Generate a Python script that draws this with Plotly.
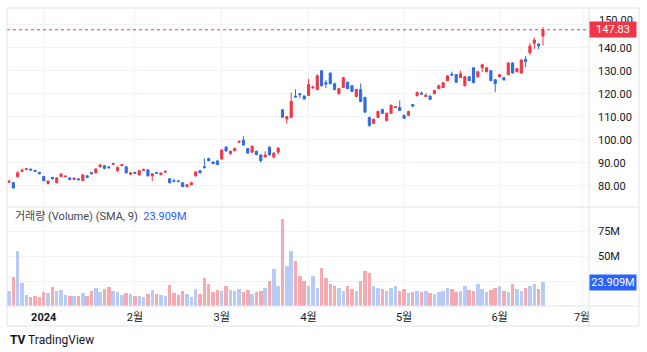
import plotly.graph_objects as go
import pandas as pd

# ---------------- data ----------------
holidays = ["2023-12-25", "2024-01-01", "2024-01-15", "2024-02-19",
            "2024-03-29", "2024-05-27", "2024-06-19"]
calendar = [d.strftime("%Y-%m-%d") for d in pd.bdate_range("2023-12-19", "2024-07-05")
            if d.strftime("%Y-%m-%d") not in holidays]

opens = [81.5, 81.4, 83.9, 86.2, 87.0, 87.2, 86.7, 85.8, 84.0, 81.0,
         83.6, 81.3, 84.0, 83.9, 83.4, 82.7, 83.0, 82.2, 84.3, 85.7,
         85.6, 88.2, 88.7, 88.2, 89.3, 86.6, 88.8, 88.2, 85.0, 85.8,
         84.7, 86.7, 86.9, 84.3, 85.8, 84.8, 85.9, 83.0, 82.2, 82.1,
         81.3, 79.6, 80.4, 84.3, 86.5, 88.3, 91.8, 90.3, 90.8, 91.6,
         96.8, 94.0, 95.2, 98.9, 99.8, 96.2, 94.6, 95.0, 93.4, 92.5,
         96.8, 92.5, 94.6, 113.0, 109.0, 109.7, 119.0, 120.0, 119.0, 119.2,
         122.5, 121.8, 130.0, 124.8, 129.0, 124.4, 120.0, 122.7, 125.0, 123.5,
         118.8, 121.8, 118.4, 109.7, 107.1, 109.7, 113.2, 108.4, 111.5, 114.0,
         114.0, 110.6, 110.6, 115.3, 119.2, 120.3, 118.8, 119.0, 120.0, 122.2,
         122.7, 125.7, 128.5, 128.3, 127.0, 123.5, 127.4, 131.3, 127.4, 131.3,
         129.6, 130.0, 126.1, 127.4, 127.0, 128.3, 133.4, 129.6, 129.0, 135.0,
         137.8, 142.0, 141.6, 145.1]
highs = [82.3, 81.6, 86.3, 87.5, 87.8, 87.5, 86.9, 86.0, 84.3, 82.3,
         83.9, 83.7, 85.6, 84.6, 83.6, 83.6, 83.1, 85.0, 84.5, 86.0,
         87.6, 89.4, 88.9, 88.4, 90.0, 88.3, 89.5, 88.4, 85.9, 86.0,
         86.8, 87.5, 87.1, 85.4, 86.0, 85.8, 86.8, 83.2, 83.0, 82.5,
         81.5, 80.7, 81.5, 86.3, 86.8, 92.0, 92.2, 90.5, 91.0, 95.8,
         97.2, 95.3, 96.5, 99.6, 101.5, 96.4, 97.4, 95.2, 93.6, 95.0,
         97.0, 94.4, 96.6, 113.3, 110.3, 120.5, 122.0, 120.3, 119.2, 126.5,
         123.5, 128.5, 130.3, 126.0, 129.3, 124.8, 122.5, 127.3, 125.3, 123.8,
         122.1, 124.5, 118.7, 110.0, 109.2, 112.6, 113.5, 111.8, 115.3, 114.6,
         117.0, 110.9, 112.6, 115.6, 121.0, 121.0, 120.2, 119.2, 121.7, 124.0,
         125.0, 128.0, 129.6, 128.6, 130.0, 127.7, 127.6, 131.5, 129.9, 133.0,
         131.6, 130.3, 126.4, 128.6, 127.3, 133.7, 133.7, 131.3, 135.0, 136.5,
         142.0, 144.5, 142.0, 149.0]
lows = [81.2, 78.7, 83.5, 86.0, 86.8, 86.5, 85.9, 84.9, 81.9, 80.6,
        82.7, 81.0, 83.7, 83.7, 82.4, 82.5, 82.3, 82.0, 83.3, 85.0,
        85.4, 88.0, 87.2, 87.2, 89.0, 86.0, 88.4, 85.4, 84.8, 85.1,
        84.5, 86.5, 84.0, 82.0, 85.1, 84.6, 85.7, 81.0, 81.7, 81.6,
        79.4, 79.4, 80.2, 84.0, 85.4, 87.6, 90.6, 89.4, 88.9, 91.4,
        94.9, 93.5, 95.0, 98.5, 97.5, 94.0, 94.4, 93.3, 90.0, 92.3,
        93.2, 91.8, 93.5, 109.5, 107.0, 109.5, 118.3, 118.0, 117.4, 119.0,
        122.3, 121.5, 123.2, 122.5, 124.0, 121.5, 119.7, 122.5, 122.0, 120.7,
        118.5, 116.3, 111.7, 105.5, 106.8, 109.4, 111.2, 108.0, 111.3, 113.7,
        112.5, 109.0, 110.3, 114.4, 118.8, 119.6, 118.6, 117.3, 119.8, 122.0,
        122.5, 125.5, 127.9, 124.8, 126.8, 123.2, 125.5, 124.6, 127.0, 129.5,
        129.3, 125.5, 120.7, 127.0, 125.8, 128.0, 128.8, 129.3, 128.8, 131.5,
        137.0, 139.5, 139.3, 141.0]
closes = [82.0, 79.0, 85.6, 86.7, 87.4, 86.8, 86.2, 85.2, 82.2, 82.0,
          83.0, 83.4, 85.0, 84.1, 82.7, 83.3, 82.6, 84.7, 83.6, 85.2,
          87.3, 89.0, 87.5, 87.9, 89.6, 88.0, 89.2, 85.6, 85.6, 85.4,
          86.5, 87.0, 84.3, 85.2, 85.4, 85.5, 86.1, 81.3, 81.9, 81.8,
          79.6, 80.4, 81.3, 86.0, 85.6, 87.8, 90.9, 89.6, 89.2, 95.5,
          95.1, 95.0, 96.2, 99.3, 97.7, 94.2, 97.2, 93.5, 90.9, 93.4,
          93.4, 94.2, 96.4, 109.8, 110.0, 116.6, 118.6, 119.6, 117.7, 124.0,
          122.9, 127.8, 123.5, 124.2, 124.4, 121.8, 122.2, 127.0, 122.2, 121.0,
          121.8, 116.6, 112.0, 106.3, 108.9, 112.3, 111.5, 111.5, 115.0, 114.3,
          112.7, 109.3, 112.3, 114.6, 120.5, 119.8, 119.3, 117.5, 121.4, 123.5,
          124.8, 127.8, 128.1, 125.0, 128.7, 127.4, 125.7, 124.8, 129.6, 132.6,
          131.3, 125.7, 124.4, 128.3, 126.0, 133.4, 129.0, 131.0, 134.7, 134.0,
          140.8, 143.4, 140.8, 147.83]
volumes_m = [14.7, 29.0, 55.0, 23.0, 11.3, 9.3, 9.6, 8.6, 13.7, 13.0,
             18.8, 15.4, 16.0, 11.3, 10.3, 10.0, 10.3, 13.4, 10.3, 14.7,
             18.2, 14.4, 17.2, 19.5, 15.4, 14.4, 11.3, 13.0, 11.6, 10.0,
             10.0, 8.6, 12.0, 16.0, 12.0, 11.3, 9.6, 21.6, 12.7, 11.0,
             15.4, 12.0, 9.3, 17.2, 12.0, 28.0, 22.0, 14.0, 16.0, 15.0,
             20.0, 16.0, 15.0, 17.0, 14.0, 16.0, 12.0, 14.0, 15.0, 18.0,
             25.0, 37.0, 20.0, 88.0, 40.0, 55.0, 45.0, 30.0, 25.0, 20.0,
             30.0, 18.0, 38.0, 28.0, 22.0, 20.0, 18.0, 15.0, 20.0, 17.0,
             15.0, 25.0, 35.0, 33.0, 20.0, 18.0, 17.0, 15.0, 18.0, 20.0,
             15.0, 17.0, 13.0, 14.0, 15.0, 14.0, 15.0, 13.0, 12.0, 14.0,
             15.0, 18.0, 17.0, 14.0, 15.0, 20.0, 16.0, 15.0, 22.0, 17.0,
             14.0, 16.0, 18.0, 20.0, 15.0, 14.0, 22.0, 17.0, 15.0, 18.0,
             20.0, 22.0, 17.0, 23.909]
last_price = 147.83
last_volume_label = "23.909M"
price_tickvals = [80, 90, 100, 110, 120, 130, 140, 150]
month_ticks = ["2024-01-02", "2024-02-01", "2024-03-01", "2024-04-01",
               "2024-05-01", "2024-06-03", "2024-07-01"]
month_labels = ["<b>2024</b>", "2월", "3월", "4월", "5월", "6월", "7월"]
vol_tickvals = [25, 50, 75]
vol_ticktext = ["", "50M", "75M"]   # 25M label is hidden behind the last-value tag

# ---------------- figure ----------------
n = len(closes)
dates = calendar[:n]
xs = list(range(n))
tick_idx = [calendar.index(d) for d in month_ticks]

UP, DOWN = "#f23645", "#2e6be6"
VOL_UP, VOL_DOWN = "#b7cbf6", "#f6a9ae"   # volume colours are inverted vs candles
vol_colors = [VOL_UP if c >= o else VOL_DOWN for o, c in zip(opens, closes)]

W, H = 647, 352
PL, PR, PT, PB = 7, 589, 8, 306
SEP = 207
pane_split = (PB - SEP) / (PB - PT)

def px_x(px):
    return (px - PL) / (PR - PL)

def px_y(py):
    return (PB - py) / (PB - PT)

fig = go.Figure()
fig.add_trace(go.Candlestick(
    x=xs, open=opens, high=highs, low=lows, close=closes,
    increasing=dict(line=dict(color=UP, width=1), fillcolor=UP),
    decreasing=dict(line=dict(color=DOWN, width=1), fillcolor=DOWN),
    whiskerwidth=0, xaxis="x", yaxis="y", hoverinfo="skip", showlegend=False,
))
fig.add_trace(go.Bar(
    x=xs, y=volumes_m, marker=dict(color=vol_colors, line=dict(width=0)),
    width=0.8, xaxis="x", yaxis="y2", hoverinfo="skip", showlegend=False,
))

FONT = "Roboto, 'Noto Sans CJK KR', sans-serif"
GRID = "#f0f3fa"
LINE = "#e0e3eb"
TXT = "#131722"

price_ticktext = [f"{v:.2f}" if v != 150 else "" for v in price_tickvals]

fig.update_layout(
    width=W, height=H,
    margin=dict(l=PL, r=W - PR, t=PT, b=H - PB, pad=0),
    paper_bgcolor="white", plot_bgcolor="white",
    font=dict(family=FONT, size=11, color=TXT),
    bargap=0,
    xaxis=dict(
        domain=[0, 1], anchor="y2", range=[-0.46, 133.6],
        tickvals=tick_idx, ticktext=month_labels, ticks="", ticklabelstandoff=3,
        showgrid=True, gridcolor=GRID, gridwidth=1, zeroline=False, showline=False,
        rangeslider=dict(visible=False), tickfont=dict(size=11, color=TXT, family=FONT),
    ),
    yaxis=dict(
        domain=[pane_split, 1], anchor="x", side="right", range=[70.74, 157.3],
        tickvals=price_tickvals, ticktext=price_ticktext, ticks="", ticklabelstandoff=8,
        showgrid=True, gridcolor=GRID, zeroline=False, showline=False,
        tickfont=dict(size=11, color=TXT, family=FONT),
    ),
    yaxis2=dict(
        domain=[0, pane_split], anchor="x", side="right", range=[0, 99.7],
        tickvals=vol_tickvals, ticktext=vol_ticktext, ticks="", ticklabelstandoff=8,
        showgrid=True, gridcolor=GRID, zeroline=False, showline=False,
        tickfont=dict(size=11, color=TXT, family=FONT),
    ),
)

shapes = [
    # cover the clipped part of the "7월" label
    dict(type="rect", xref="paper", yref="paper", x0=px_x(PR) + 0.0005, x1=px_x(639),
         y0=px_y(325), y1=px_y(PB), fillcolor="white", line=dict(width=0), layer="above"),
    # last price dotted line
    dict(type="line", xref="paper", yref="y", x0=0, x1=1, y0=last_price, y1=last_price,
         line=dict(color=UP, width=1, dash="dot"), layer="above"),
    # frame
    dict(type="rect", xref="paper", yref="paper", x0=px_x(7), x1=px_x(639),
         y0=px_y(326), y1=px_y(8), line=dict(color=LINE, width=1), layer="above"),
    dict(type="line", xref="paper", yref="paper", x0=1, x1=1, y0=px_y(326), y1=px_y(8),
         line=dict(color=LINE, width=1), layer="above"),
    dict(type="line", xref="paper", yref="paper", x0=px_x(7), x1=px_x(639),
         y0=px_y(SEP), y1=px_y(SEP), line=dict(color=LINE, width=1), layer="above"),
    dict(type="line", xref="paper", yref="paper", x0=px_x(7), x1=px_x(639),
         y0=0, y1=0, line=dict(color=LINE, width=1), layer="above"),
]
fig.update_layout(shapes=shapes)

annotations = [
    # "150.00" label, pushed up and partly covered by the last-price tag (as in the reference)
    dict(xref="paper", yref="paper", x=px_x(597), y=px_y(20), xanchor="left", yanchor="middle",
         text="150.00", showarrow=False, font=dict(size=11, color=TXT, family=FONT)),
    dict(xref="paper", yref="y", x=1, y=last_price, xanchor="left", yanchor="middle",
         text=f"{last_price:.2f}", showarrow=False, bgcolor=UP, width=44, height=13,
         borderpad=1, font=dict(color="white", size=11, family=FONT), align="center"),
    dict(xref="paper", yref="y2", x=1, y=volumes_m[-1], xanchor="left", yanchor="middle",
         text=last_volume_label, showarrow=False, bgcolor="#2962ff", width=44, height=13,
         borderpad=1, font=dict(color="white", size=11, family=FONT), align="center"),
    dict(xref="paper", yref="paper", x=px_x(13), y=px_y(216), xanchor="left", yanchor="middle",
         text="거래량 (Volume) (SMA, 9)  <span style='color:#2962ff'>" + last_volume_label + "</span>",
         showarrow=False, font=dict(size=11, color="#434651", family=FONT)),
    dict(xref="paper", yref="paper", x=px_x(8), y=px_y(340), xanchor="left", yanchor="middle",
         text="<b>TV</b> TradingView", showarrow=False,
         font=dict(size=12, color=TXT, family=FONT)),
]
fig.update_layout(annotations=annotations)

fig.write_html("out.html")
